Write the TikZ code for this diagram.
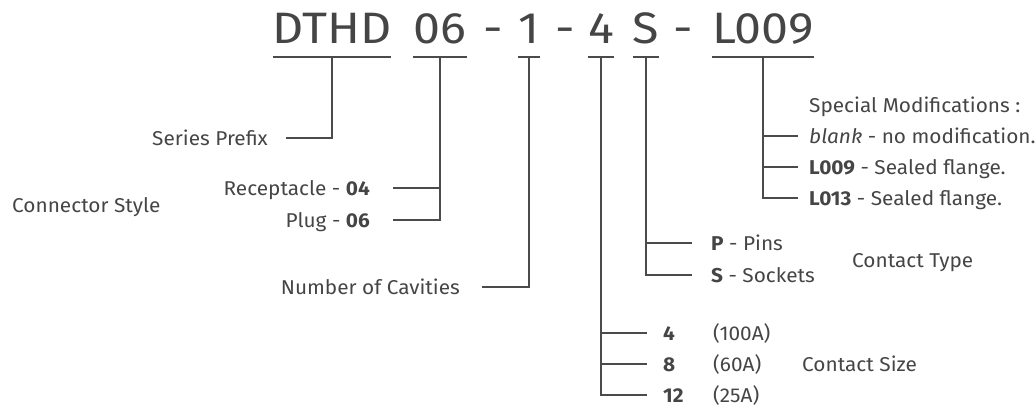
\documentclass[tikz,border=0pt]{standalone}
\usepackage{fontspec}
\setmainfont{Fira Sans}[FakeStretch=1.04]
\newfontfamily\titlefont{Fira Sans}[FakeStretch=1.1]
\usepackage{xcolor}
\usetikzlibrary{positioning,calc}
\definecolor{ink}{HTML}{454545}
\definecolor{wire}{HTML}{4B4B4B}

\begin{document}
\begin{tikzpicture}[x=1pt, y=-1pt,
  rule/.style={line width=2.6pt, draw=wire},
  lbl/.style={inner sep=0pt, text height=14pt, text depth=0pt, text=ink, font=\fontsize{20}{24}\selectfont},
  part/.style={inner sep=0pt, anchor=base, text=ink, font=\titlefont\fontsize{44}{48}\selectfont}]
\useasboundingbox (0,0) rectangle (1036,408);
% part number
\coordinate (ul) at (0,57);
\node[part] (dthd) at (332,43) {DTHD};
\node[part] (sty) at (440,43) {06};
\node[part] (dsh1) at (493,43) {-};
\node[part] (cav) at (529,43) {1};
\node[part] (dsh2) at (565,43) {-};
\node[part] (siz) at (601,43) {4};
\node[part] (typ) at (646,43) {S};
\node[part] (dsh3) at (683,43) {-};
\node[part] (mod) at (763,43) {L009};
\foreach \p in {dthd,sty,cav,siz,typ,mod}
  \draw[rule] (\p.base west |- ul) -- (\p.base east |- ul);
% series prefix
\coordinate (pre) at (286,138);
\node[lbl, left=18pt of pre] (prefix) {Series Prefix};
\draw[rule] (dthd |- ul) |- (pre);
% connector style
\coordinate (st1) at (393,188); \coordinate (st2) at (393,220);
\node[lbl, left=23pt of st1] (rec) {Receptacle - \textbf{04}};
\node[lbl, left=23pt of st2] (plg) {Plug - \textbf{06}};
\node[lbl, anchor=west] (cstyle) at (12,205) {Connector Style};
\draw[rule] (sty |- ul) |- (st2);
\draw[rule] (sty |- st1) -- (st1);
% cavities
\coordinate (cv) at (482,287);
\node[lbl, left=22pt of cv] (ncav) {Number of Cavities};
\draw[rule] (cav |- ul) |- (cv);
% contact size
\draw[rule] (siz |- ul) |- (647,395);
\foreach \n/\a/\y [count=\i] in {4/100A/333, 8/60A/364, 12/25A/395} {
  \coordinate (sz\i) at (647,\y);
  \node[lbl, right=16pt of sz\i] (num\i) {\textbf{\n}};
  \node[lbl, anchor=west] (amp\i) at (713,\y) {(\a)};
  \draw[rule] (siz |- sz\i) -- (sz\i);
}
\node[lbl, anchor=west] (csize) at (802,364) {Contact Size};
% contact type
\coordinate (ty1) at (692,243); \coordinate (ty2) at (692,275);
\node[lbl, right=19pt of ty1] (pin) {\textbf{P} - Pins};
\node[lbl, right=19pt of ty2] (sck) {\textbf{S} - Sockets};
\node[lbl, anchor=west] (ctype) at (852,260) {Contact Type};
\draw[rule] (typ |- ul) |- (ty2);
\draw[rule] (typ |- ty1) -- (ty1);
% modifications
\node[lbl, anchor=west] (smod) at (809,105) {Special Modifications :};
\draw[rule] (mod |- ul) |- (798,198);
\foreach \t/\y [count=\i] in {{\textit{blank} - no modification.}/136, {\textbf{L009} - Sealed flange.}/167, {\textbf{L013} - Sealed flange.}/198} {
  \coordinate (md\i) at (798,\y);
  \node[lbl, right=11pt of md\i] (opt\i) {\t};
  \draw[rule] (mod |- md\i) -- (md\i);
}
\end{tikzpicture}
\end{document}
